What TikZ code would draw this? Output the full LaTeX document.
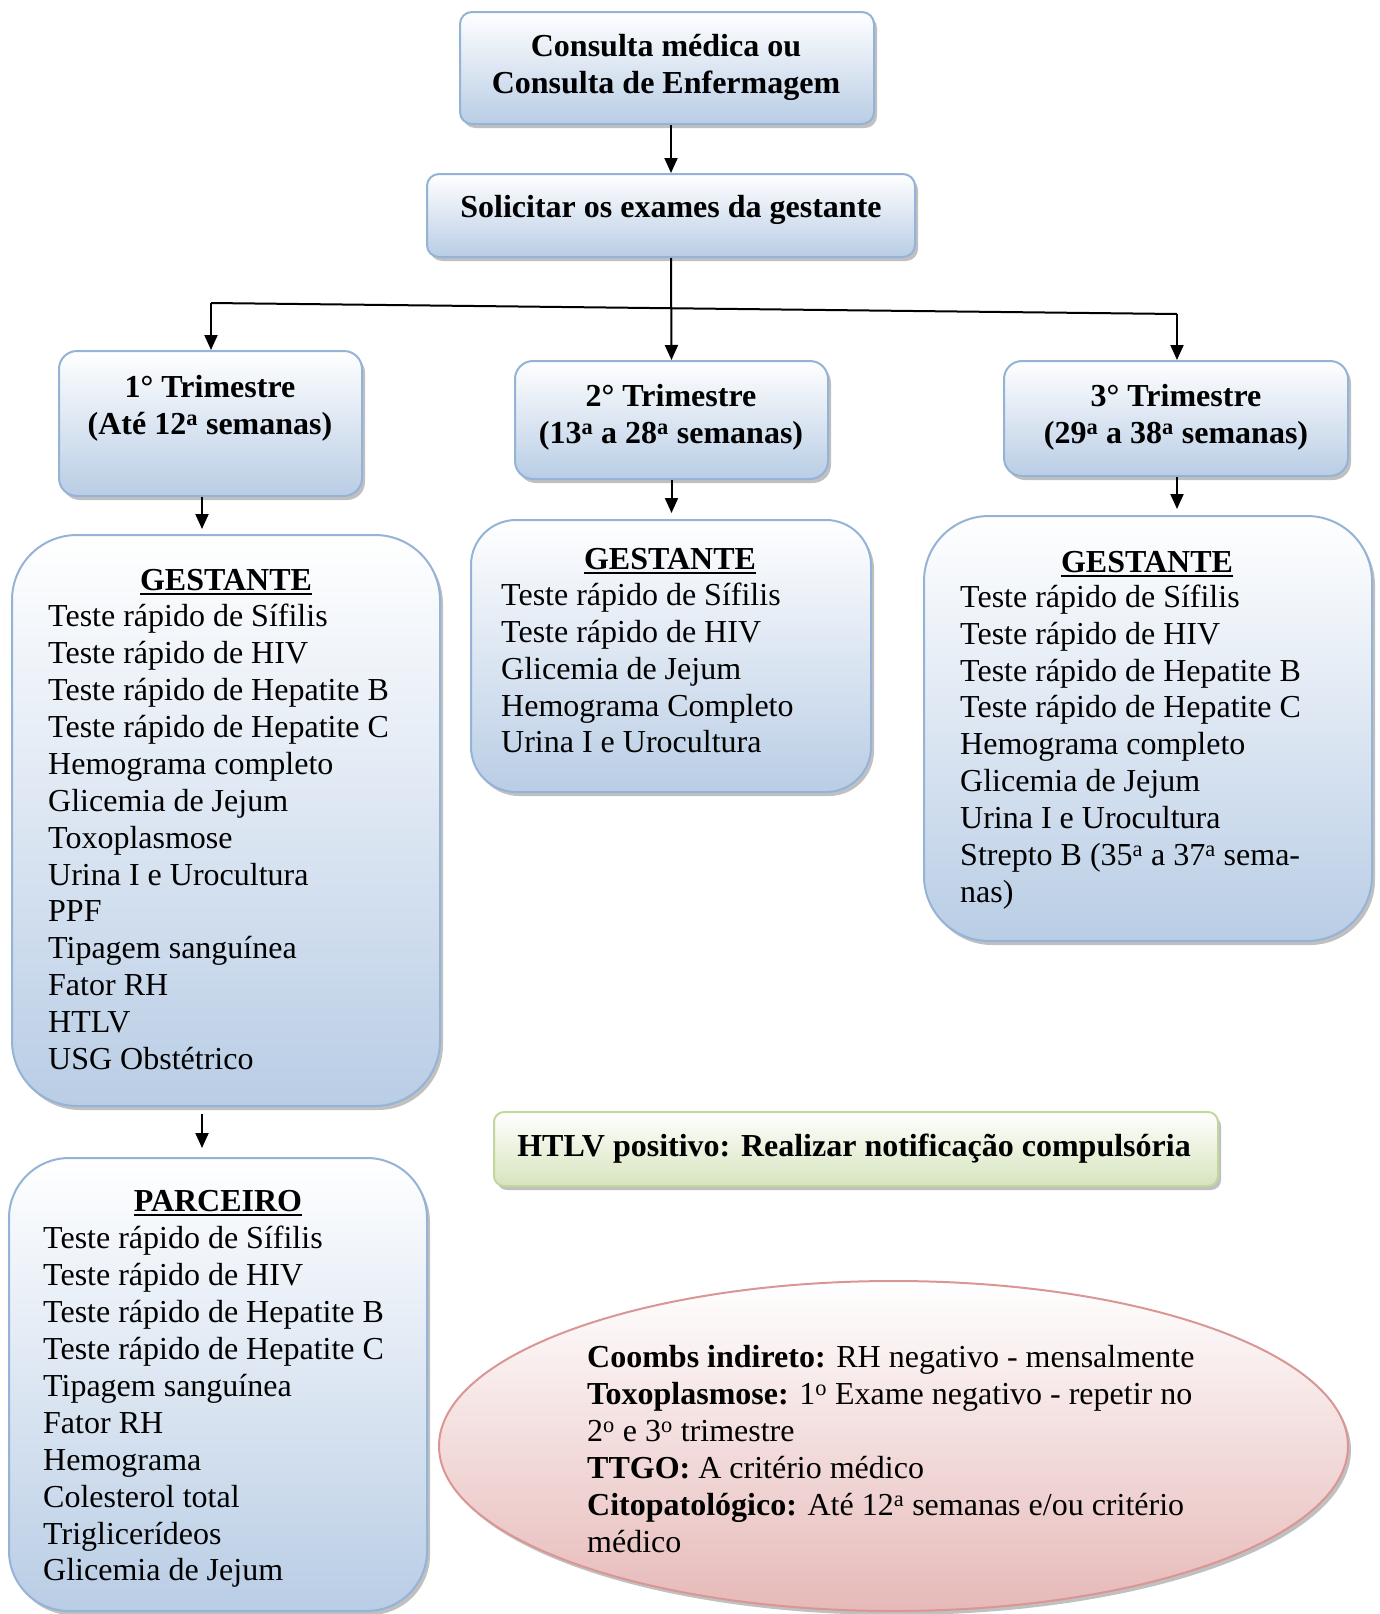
\documentclass[tikz,border=0pt]{standalone}
\usepackage{fontspec}
\setmainfont{Liberation Serif}
\usetikzlibrary{arrows.meta,shapes.geometric,shadows}
\definecolor{boxblue}{RGB}{185,205,229}
\definecolor{boxedge}{RGB}{149,179,215}
\definecolor{grnfill}{RGB}{215,228,189}
\definecolor{grnedge}{RGB}{195,214,155}
\definecolor{pinkfill}{RGB}{230,185,184}
\definecolor{pinkedge}{RGB}{217,150,148}
\newcommand\myul[1]{\setbox0\hbox{#1}\rlap{\rule[-5pt]{\wd0}{2.6pt}}\box0}
\newcommand\sa{\textsuperscript{a}}
\newcommand\so{\textsuperscript{o}}
\begin{document}
\begin{tikzpicture}[x=1pt,y=-1pt,
  shad/.style={drop shadow={shadow xshift=3pt,shadow yshift=-4pt,fill=black!45,opacity=0.55}},
  bluebox/.style={draw=boxedge,line width=2pt,rounded corners=#1,top color=white,bottom color=boxblue,inner sep=0pt,shad},
  bluebox/.default=12pt,
  greenbox/.style={draw=grnedge,line width=2pt,rounded corners=10pt,top color=white,bottom color=grnfill,inner sep=0pt,shad},
  txt/.style={font=\fontsize{32}{36.9}\selectfont,inner sep=0pt,align=left,anchor=west},
  ttl/.style={font=\fontsize{32}{36.9}\selectfont\bfseries,inner sep=0pt,align=center},
  arr/.style={line width=2pt,-{Triangle[length=15pt,width=13pt]}},
  ln/.style={line width=2pt}]
\useasboundingbox (0,0) rectangle (1379,1614);

% top boxes
\node[bluebox, minimum width=414pt, minimum height=112pt] (b1) at (667,68) {};
\node[ttl] (b1t) at (666,67) {Consulta médica ou\\Consulta de Enfermagem};
\node[bluebox, minimum width=488pt, minimum height=83pt] (b2) at (671,215.5) {};
\node[ttl] (b2t) at (671,210) {Solicitar os exames da gestante};

% trimester boxes
\node[bluebox=18pt, minimum width=303pt, minimum height=145pt] (t1) at (210.5,423.5) {};
\node[ttl] (t1t) at (210,408) {1° Trimestre\\(Até 12\sa{} semanas)};
\node[bluebox=18pt, minimum width=313pt, minimum height=118pt] (t2) at (671.5,420) {};
\node[ttl] (t2t) at (671,417) {2° Trimestre\\(13\sa{} a 28\sa{} semanas)};
\node[bluebox=18pt, minimum width=344pt, minimum height=115pt] (t3) at (1176,418.5) {};
\node[ttl] (t3t) at (1176,417) {3° Trimestre\\(29\sa{} a 38\sa{} semanas)};

% gestante boxes
\node[bluebox=65pt, minimum width=428pt, minimum height=571pt] (g1) at (226,820.5) {};
\node[ttl] (g1h) at (226,582) {\myul{GESTANTE}};
\node[txt] (g1t) at (48,837) {Teste rápido de Sífilis\\Teste rápido de HIV\\Teste rápido de Hepatite B\\Teste rápido de Hepatite C\\Hemograma completo\\Glicemia de Jejum\\Toxoplasmose\\Urina I e Urocultura\\PPF\\Tipagem sanguínea\\Fator RH\\HTLV\\USG Obstétrico};

\node[bluebox=45pt, minimum width=400pt, minimum height=272pt] (g2) at (671,656) {};
\node[ttl] (g2h) at (670,561) {\myul{GESTANTE}};
\node[txt] (g2t) at (501,668) {Teste rápido de Sífilis\\Teste rápido de HIV\\Glicemia de Jejum\\Hemograma Completo\\Urina I e Urocultura};

\node[bluebox=65pt, minimum width=448pt, minimum height=425pt] (g3) at (1148,728.5) {};
\node[ttl] (g3h) at (1147,564) {\myul{GESTANTE}};
\node[txt] (g3t) at (960,747) {Teste rápido de Sífilis\\Teste rápido de HIV\\Teste rápido de Hepatite B\\Teste rápido de Hepatite C\\Hemograma completo\\Glicemia de Jejum\\Urina I e Urocultura\\Strepto B (35\sa{} a 37\sa{} sema-\\nas)};

% parceiro
\node[bluebox=60pt, minimum width=418pt, minimum height=453pt] (p) at (218,1384.5) {};
\node[ttl] (ph) at (218,1203) {\myul{PARCEIRO}};
\node[txt] (pt) at (43,1407) {Teste rápido de Sífilis\\Teste rápido de HIV\\Teste rápido de Hepatite B\\Teste rápido de Hepatite C\\Tipagem sanguínea\\Fator RH\\Hemograma\\Colesterol total\\Triglicerídeos\\Glicemia de Jejum};

% HTLV
\node[greenbox, minimum width=724pt, minimum height=74pt] (h) at (856,1149) {};
\node[ttl] (ht) at (854,1149) {HTLV positivo: Realizar notificação compulsória};

% ellipse
\node[ellipse, draw=pinkedge, line width=2pt, top color=white, bottom color=pinkfill, minimum width=909pt, minimum height=330pt, inner sep=0pt, shad] (e) at (893.5,1446) {};
\node[txt] (et) at (587,1449) {\textbf{Coombs indireto:} RH negativo - mensalmente\\\textbf{Toxoplasmose:} 1\so{} Exame negativo - repetir no\\2\so{} e 3\so{} trimestre\\\textbf{TTGO:} A critério médico\\\textbf{Citopatológico:} Até 12\sa{} semanas e/ou critério\\médico};

% connectors
\draw[arr] (b2.north |- b1.south) -- (b2.north);
\coordinate (jl) at (211,303);
\coordinate (jr) at (1177,314);
\draw[ln] (jl) -- (jr);
\draw[arr] (b2.south) -- (t2.north);
\draw[arr] (jl) -- (jl |- t1.north);
\draw[arr] (jr) -- (jr |- t3.north);
\draw[arr, shorten >=5pt] ([xshift=-8.5pt]t1.south) -- ([xshift=-24pt]g1.north);
\draw[arr, shorten >=6pt] (t2.south) -- (t2.south |- g2.north);
\draw[arr, shorten >=6pt] (jr |- t3.south) -- (jr |- g3.north);
\draw[arr, shorten <=7pt, shorten >=9pt] ([xshift=-24pt]g1.south) -- ([xshift=-16pt]p.north);
\end{tikzpicture}
\end{document}
